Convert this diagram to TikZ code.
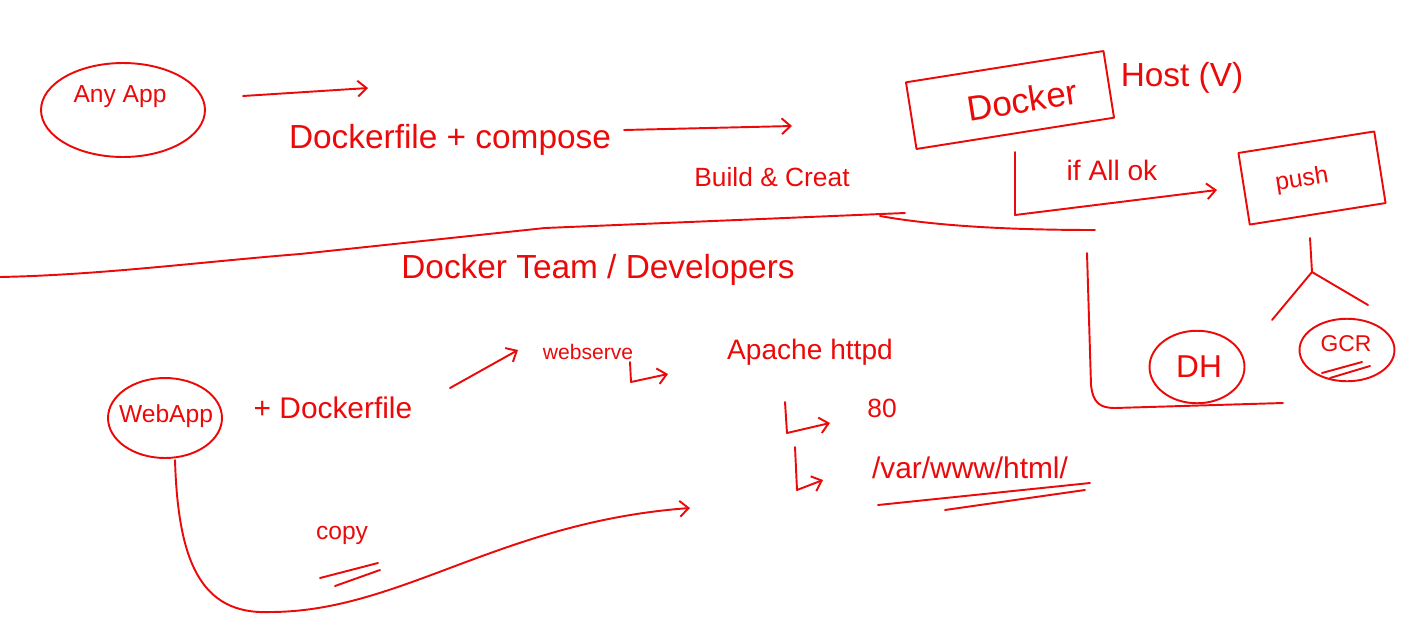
\documentclass[tikz,border=0pt]{standalone}
\usepackage{fontspec}
\setmainfont{Liberation Sans}
\usetikzlibrary{arrows.meta,shapes.geometric}
\definecolor{pen}{RGB}{235,10,10}
\tikzset{
  ink/.style={draw=pen, line width=1.1pt, line cap=round, line join=round},
  harrow/.style={ink, -{Straight Barb[length=5pt,width=9pt]}},
  lbl/.style={text=pen, inner sep=1pt},
  oval/.style={ellipse, ink, inner sep=0pt},
  hbox/.style={rectangle, ink, inner sep=0pt},
}
\newcommand{\fs}[1]{\fontsize{#1}{#1}\selectfont}
\begin{document}
\begin{tikzpicture}[x=0.02cm,y=-0.02cm]
\useasboundingbox (0,0) rectangle (1410,643);

% top section
\node[oval, minimum width=3.28cm, minimum height=1.88cm] (anyapp) at (123,110) {};
\node[lbl] (anyapptxt) at (120,97) {\fs{14}Any App};
\coordinate (a1s) at (243,96);
\coordinate (a1e) at (368,88);
\draw[harrow] (a1s) -- (a1e);

\node[lbl] (dfc) at (450,140) {\fs{19}Dockerfile + compose};
\coordinate (a2s) at (624,130);
\coordinate (a2e) at (792,126);
\draw[harrow] (a2s) -- (a2e);
\node[lbl] (build) at (772,177) {\fs{15}Build \& Creat};

\node[hbox, rotate=9, minimum width=4cm, minimum height=1.35cm] (docker) at (1010,100) {};
\node[lbl, rotate=9] (dockertxt) at (1022,100) {\fs{20}Docker};
\node[lbl] (host) at (1182,78) {\fs{19}Host (V)};

\node[hbox, rotate=9, minimum width=2.75cm, minimum height=1.45cm] (push) at (1312,178) {};
\node[lbl, rotate=9] (pushtxt) at (1302,180) {\fs{14}push};

\node[lbl] (ifok) at (1112,170) {\fs{16}if All ok};
\coordinate (if1) at (1015,152);
\coordinate (if2) at (1015,215);
\coordinate (if3) at (1217,190);
\draw[ink] (if1) -- (if2);
\draw[harrow] (if2) -- (if3);

% divider
\coordinate (d1) at (0,277);
\coordinate (d2) at (300,254);
\coordinate (d3) at (545,228);
\coordinate (d4) at (905,213);
\coordinate (d5) at (880,216);
\coordinate (d6) at (1095,230);
\draw[ink] (d1) .. controls (100,275) and (200,262) .. (d2) -- (d3) -- (d4);
\draw[ink] (d5) .. controls (930,225) and (1000,230) .. (d6);

% registry tree
\coordinate (pt) at (1310,238);
\coordinate (br) at (1312,272);
\coordinate (brl) at (1272,320);
\coordinate (brr) at (1368,305);
\draw[ink] (pt) -- (br);
\draw[ink] (brl) -- (br) -- (brr);
\node[oval, minimum width=1.9cm, minimum height=1.45cm] (dh) at (1197,367) {};
\node[lbl] (dhtxt) at (1199,367) {\fs{18}DH};
\node[oval, minimum width=1.9cm, minimum height=1.25cm] (gcr) at (1347,350) {};
\node[lbl] (gcrtxt) at (1346,344) {\fs{13}GCR};
\coordinate (g1) at (1322,373);
\coordinate (g2) at (1362,362);
\coordinate (g3) at (1330,378);
\coordinate (g4) at (1370,366);
\draw[ink] (g1) -- (g2);
\draw[ink] (g3) -- (g4);

% big L line
\coordinate (L1) at (1087,253);
\coordinate (L2) at (1283,403);
\draw[ink] (L1) -- (1091,385) .. controls (1093,403) and (1100,408) .. (1115,408) -- (L2);

% bottom section
\node[lbl] (team) at (598,270) {\fs{19}Docker Team / Developers};

\node[oval, minimum width=2.28cm, minimum height=1.6cm] (webapp) at (165,418) {};
\node[lbl] (webapptxt) at (166,416) {\fs{14}WebApp};
\node[lbl] (plusdf) at (333,408) {\fs{17}+ Dockerfile};
\coordinate (w1) at (450,388);
\coordinate (w2) at (518,350);
\draw[harrow] (w1) -- (w2);
\node[lbl] (webserve) at (588,352) {\fs{12}webserve};
\coordinate (ws1) at (630,362);
\coordinate (ws2) at (631,382);
\coordinate (ws3) at (668,374);
\draw[ink] (ws1) -- (ws2);
\draw[harrow] (ws2) -- (ws3);

\node[lbl] (apache) at (810,352) {\fs{16}Apache httpd};
\coordinate (ap1) at (785,402);
\coordinate (ap2) at (787,433);
\coordinate (ap3) at (830,423);
\draw[ink] (ap1) -- (ap2);
\draw[harrow] (ap2) -- (ap3);
\node[lbl] (eighty) at (882,408) {\fs{15}80};

\coordinate (v1) at (795,447);
\coordinate (v2) at (797,490);
\coordinate (v3) at (823,480);
\draw[ink] (v1) -- (v2);
\draw[harrow] (v2) -- (v3);
\node[lbl] (var) at (970,468) {\fs{17}/var/www/html/};
\coordinate (u1) at (878,505);
\coordinate (u2) at (1090,483);
\coordinate (u3) at (945,510);
\coordinate (u4) at (1085,490);
\draw[ink] (u1) -- (u2);
\draw[ink] (u3) -- (u4);

\node[lbl] (copy) at (342,535) {\fs{14}copy};
\coordinate (c1) at (320,578);
\coordinate (c2) at (378,563);
\coordinate (c3) at (335,586);
\coordinate (c4) at (380,570);
\draw[ink] (c1) -- (c2);
\draw[ink] (c3) -- (c4);
\coordinate (cs) at (175,460);
\coordinate (cend) at (690,508);
\draw[harrow] (cs)
  .. controls (178,560) and (200,615) .. (270,612)
  .. controls (400,612) and (500,522) .. (cend);
\end{tikzpicture}
\end{document}
